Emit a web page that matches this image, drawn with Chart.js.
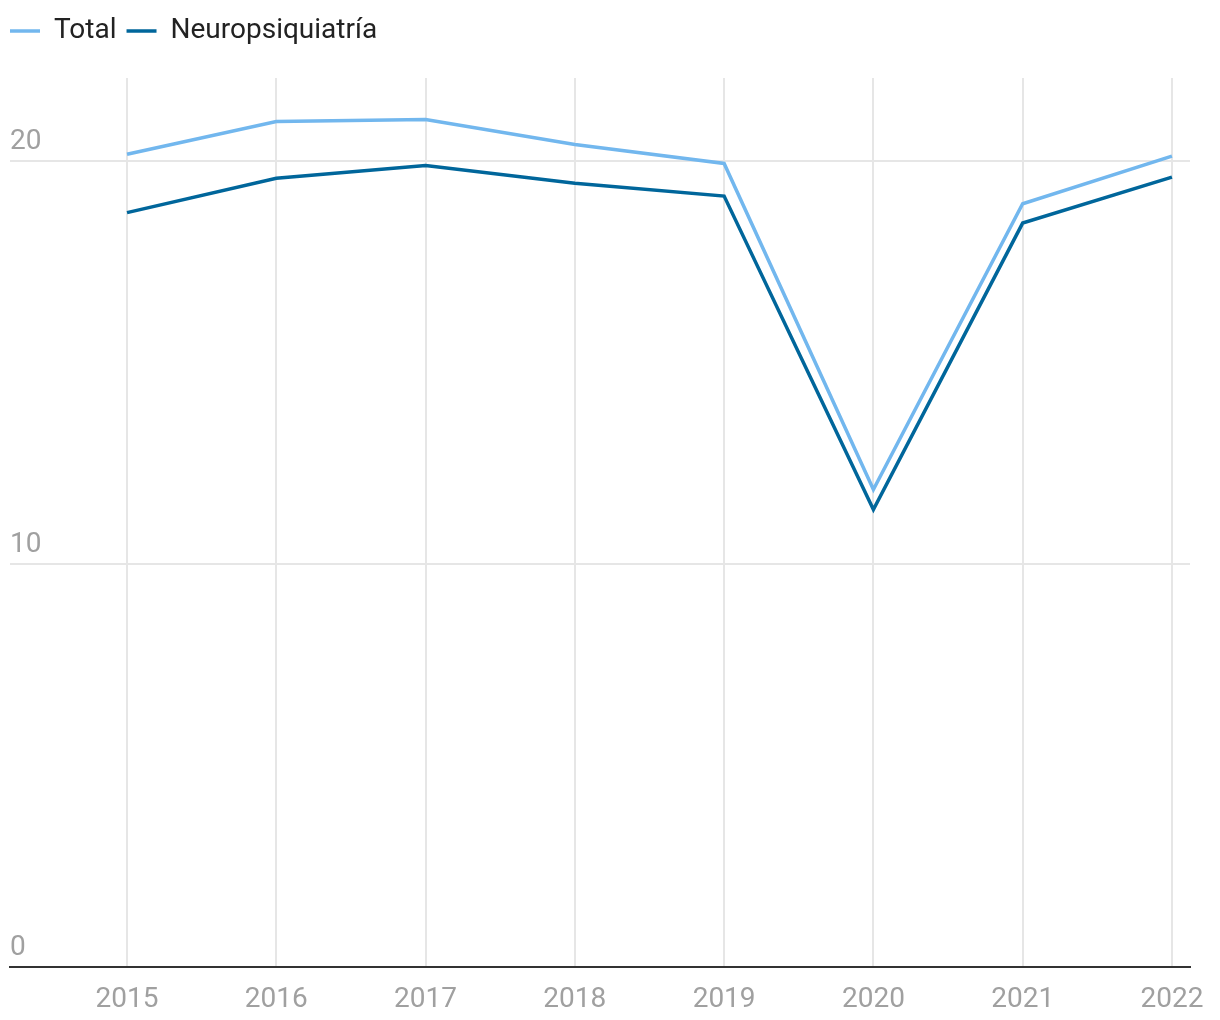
<!DOCTYPE html>
<html>
<head>
<meta charset="utf-8">
<script src="https://cdn.jsdelivr.net/npm/chart.js@4"></script>
<style>
  body { margin: 0; background: #fff; }
  #wrap { width: 1220px; height: 1020px; }
</style>
</head>
<body>
<div id="wrap"><canvas id="lineChart"></canvas></div>
<script>
const years = [2015, 2016, 2017, 2018, 2019, 2020, 2021, 2022];
const total = [20.17, 20.98, 21.03, 20.41, 19.94, 11.85, 18.94, 20.12];
const neuro = [18.72, 19.57, 19.89, 19.45, 19.13, 11.35, 18.46, 19.60];
const yTicks = [0, 10, 20];

const toPoints = (vals) => vals.map((v, i) => ({ x: years[i], y: v }));

// pushes the plot area down below the legend
const legendGap = {
  id: 'legendGap',
  beforeInit(chart) {
    const fit = chart.legend.fit;
    chart.legend.fit = function () {
      fit.bind(chart.legend)();
      this.height += 23;
    };
  }
};

Chart.defaults.font.family = 'Roboto, "Liberation Sans", sans-serif';

new Chart(document.getElementById('lineChart'), {
  type: 'line',
  data: {
    datasets: [
      {
        label: 'Total',
        data: toPoints(total),
        borderColor: '#72b7ee',
        backgroundColor: '#72b7ee',
        borderWidth: 3.5,
        pointRadius: 0,
        fill: false
      },
      {
        label: 'Neuropsiquiatría',
        data: toPoints(neuro),
        borderColor: '#00669b',
        backgroundColor: '#00669b',
        borderWidth: 3.5,
        pointRadius: 0,
        fill: false
      }
    ]
  },
  options: {
    responsive: true,
    maintainAspectRatio: false,
    animation: false,
    layout: { padding: { left: 0, right: 30, top: 7, bottom: 0 } },
    plugins: {
      legend: {
        position: 'top',
        align: 'start',
        labels: {
          usePointStyle: true,
          pointStyle: 'line',
          pointStyleWidth: 30,
          color: '#222',
          font: { size: 28 },
          padding: 10
        }
      },
      tooltip: { enabled: false }
    },
    scales: {
      x: {
        type: 'linear',
        min: 2014.216,
        max: 2022.121,
        afterBuildTicks(scale) {
          scale.ticks = years.map(y => ({ value: y }));
        },
        afterFit(scale) { scale.height = 53; },
        ticks: {
          callback: v => String(v),
          color: '#a0a0a0',
          font: { size: 28 },
          padding: 16,
          maxRotation: 0,
          autoSkip: false
        },
        grid: { color: '#e6e6e6', lineWidth: 2, drawTicks: false },
        border: { color: '#333', width: 2 }
      },
      y: {
        min: 0,
        max: 22.06,
        afterBuildTicks(scale) {
          scale.ticks = yTicks.map(v => ({ value: v }));
        },
        afterFit(scale) { scale.width = 10; },
        ticks: {
          mirror: true,
          padding: 0,
          labelOffset: -19,
          color: '#a0a0a0',
          font: { size: 28 }
        },
        grid: { color: '#e6e6e6', lineWidth: 2, drawTicks: false },
        border: { display: false }
      }
    }
  },
  plugins: [legendGap]
});
</script>
</body>
</html>
